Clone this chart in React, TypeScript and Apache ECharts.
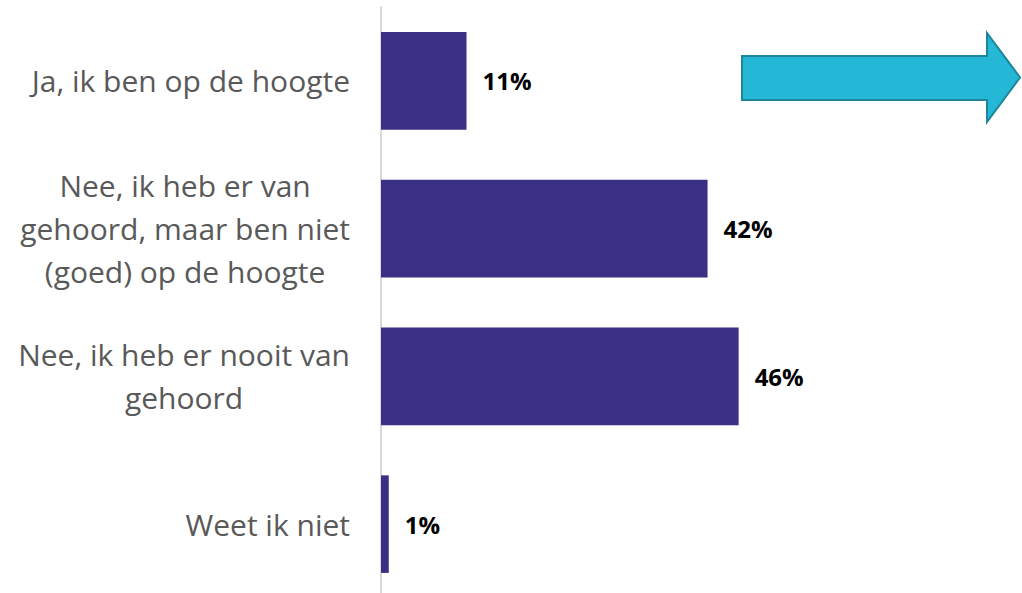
import React, { useEffect, useRef } from "react";
import * as echarts from "echarts";

const categories: string[] = [
  "Ja, ik ben op de hoogte",
  "Nee, ik heb er van\ngehoord, maar ben niet\n(goed) op de hoogte",
  "Nee, ik heb er nooit van\ngehoord",
  "Weet ik niet",
];
const values: number[] = [11, 42, 46, 1];

export default function App() {
  const ref = useRef<HTMLDivElement>(null);
  useEffect(() => {
    if (!ref.current) return;
    const chart = echarts.init(ref.current, undefined, { renderer: "svg" });
    chart.setOption({
      animation: false,
      backgroundColor: "#ffffff",
      grid: {
        left: 381,
        right: 19,
        top: 7,
        height: 591,
        containLabel: false,
        outerBoundsMode: "none",
      },
      xAxis: {
        type: "value",
        min: 0,
        max: 80,
        show: false,
      },
      yAxis: {
        type: "category",
        data: categories,
        inverse: true,
        axisLine: { show: true, lineStyle: { color: "#d9d9d9", width: 2 } },
        axisTick: { show: false },
        splitLine: { show: false },
        axisLabel: {
          margin: 31,
          fontSize: 30,
          fontFamily: "Open Sans",
          color: "#595959",
          lineHeight: 43,
          formatter: (v: string) =>
            v
              .split("\n")
              .map((l) => "{c|" + l + "}")
              .join("\n"),
          rich: {
            c: {
              align: "center",
              fontSize: 30,
              fontFamily: "Open Sans",
              color: "#595959",
              lineHeight: 43,
            },
          },
        },
      },
      series: [
        {
          type: "bar",
          data: values,
          barCategoryGap: "34%",
          itemStyle: { color: "#3a3086" },
          label: {
            show: true,
            position: "right",
            distance: 16,
            formatter: "{c}%",
            fontSize: 24,
            fontWeight: "bold",
            fontFamily: "Open Sans",
            color: "#000000",
          },
        },
      ],
      graphic: [
        {
          type: "polygon",
          shape: {
            points: [
              [742, 56],
              [987, 56],
              [987, 33],
              [1020, 77.5],
              [987, 122],
              [987, 100],
              [742, 100],
            ],
          },
          style: { fill: "#25b8d6", stroke: "#1e869c", lineWidth: 2 },
        },
      ],
    });
    return () => chart.dispose();
  }, []);
  return (
    <div
      ref={ref}
      style={{ position: "absolute", left: 0, top: 0, width: 1022, height: 593 }}
    />
  );
}
